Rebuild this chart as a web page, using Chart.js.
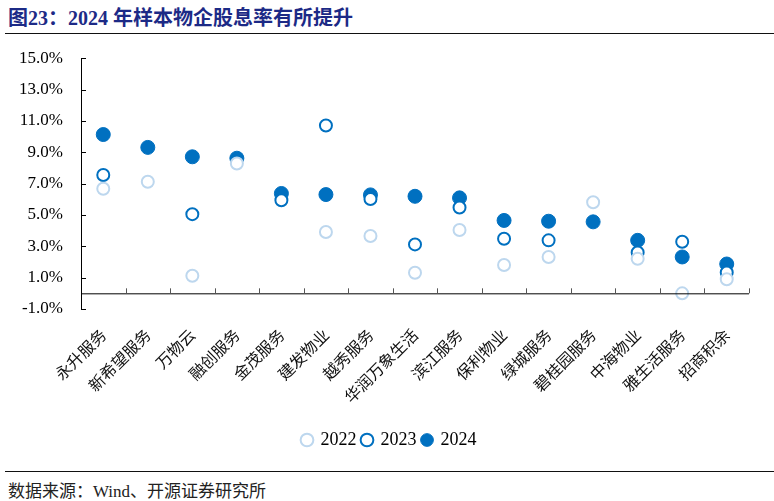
<!DOCTYPE html>
<html>
<head>
<meta charset="utf-8">
<script src="https://cdn.jsdelivr.net/npm/chart.js@4.4.1/dist/chart.umd.min.js"></script>
<style>
  body { margin: 0; width: 774px; height: 501px; background: #fff; position: relative; overflow: hidden; }
  #title { position: absolute; left: 8px; top: 2px; font: bold 20px "Liberation Serif", "Noto Sans CJK SC"; color: #1c2a86; }
  .rule { position: absolute; left: 5px; right: 0; height: 0; border-top: 1.5px solid #111; }
  #footer { position: absolute; left: 8px; top: 477px; font: 17px "Liberation Serif", "Noto Sans CJK SC"; color: #222; }
  #box { position: absolute; left: 0; top: 30px; width: 774px; height: 437px; }
</style>
</head>
<body>
<div id="title">图23：2024 年样本物企股息率有所提升</div>
<div class="rule" style="top:33px"></div>
<div id="box"><canvas id="chart"></canvas></div>
<div class="rule" style="top:471px"></div>
<div id="footer">数据来源：Wind、开源证券研究所</div>
<script>
const companies = ["永升服务", "新希望服务", "万物云", "融创服务", "金茂服务", "建发物业", "越秀服务", "华润万象生活",
    "滨江服务", "保利物业", "绿城服务", "碧桂园服务", "中海物业", "雅生活服务", "招商积余"]
const yield2022 = [6.67, 7.12, 1.12, 8.28, null, 3.91, 3.66, 1.31, 4.04, 1.81, 2.32, 5.81, 2.21, 0.0, 0.90]
const yield2023 = [7.55, null, 5.05, null, 5.94, 10.71, 6.02, 3.12, 5.48, 3.48, 3.38, null, 2.60, 3.29, 1.33]
const yield2024 = [10.13, 9.31, 8.71, 8.62, 6.37, 6.30, 6.28, 6.19, 6.09, 4.65, 4.60, 4.56, 3.38, 2.32, 1.87]

const light = "#bdd7ee"
const blue = "#0070c0"
const serif = "'Liberation Serif', 'Noto Sans CJK SC'"

// axis line at 0 plus inward tick marks, like the original excel chart
const axisPlugin = {
    id: "axisPlugin",
    afterDraw: (chart) => {
        const ctx = chart.ctx
        const xs = chart.scales.x
        const ys = chart.scales.y
        const area = chart.chartArea
        const zero = ys.getPixelForValue(0)
        const step = xs.getPixelForValue(1) - xs.getPixelForValue(0)
        ctx.save()
        ctx.lineWidth = 1
        ctx.strokeStyle = "#000"
        ctx.beginPath()
        ctx.moveTo(area.left, zero + 0.5)
        ctx.lineTo(area.right, zero + 0.5)
        ctx.stroke()
        ctx.strokeStyle = "#555"
        ctx.beginPath()
        for (let i = 0; i < companies.length; ++i) {
            const x = Math.round(xs.getPixelForValue(i) + step / 2) + 0.5
            ctx.moveTo(x, zero)
            ctx.lineTo(x, zero - 5)
        }
        ctx.stroke()
        ctx.strokeStyle = "#000"
        ctx.beginPath()
        ys.ticks.forEach(t => {
            const y = Math.round(ys.getPixelForValue(t.value)) + 0.5
            ctx.moveTo(area.left, y)
            ctx.lineTo(area.left + 5, y)
        })
        ctx.stroke()
        ctx.restore()
    }
}

const makeSet = (label, data, fill, stroke, radius, width) => ({
    label: label,
    data: data,
    showLine: false,
    pointRadius: radius,
    pointHoverRadius: radius,
    pointBackgroundColor: fill,
    pointBorderColor: stroke,
    pointBorderWidth: width,
    backgroundColor: fill,
    borderColor: stroke,
    borderWidth: width
})

new Chart(document.getElementById("chart"), {
    type: "line",
    data: {
        labels: companies,
        datasets: [
            makeSet("2022", yield2022, "#fff", light, 6, 2),
            makeSet("2023", yield2023, "#fff", blue, 6, 2),
            makeSet("2024", yield2024, blue, blue, 7, 1)
        ]
    },
    options: {
        responsive: true,
        maintainAspectRatio: false,
        animation: false,
        layout: { padding: { top: 7, right: 9, bottom: 8, left: 14 } },
        plugins: {
            tooltip: { enabled: false },
            legend: {
                position: "bottom",
                labels: {
                    usePointStyle: true,
                    pointStyle: "circle",
                    boxWidth: 9,
                    boxHeight: 9,
                    padding: 6,
                    color: "#000",
                    font: { family: serif, size: 18 }
                }
            }
        },
        scales: {
            x: {
                offset: true,
                grid: { display: false, drawTicks: false, offset: true },
                border: { display: false },
                ticks: {
                    color: "#111",
                    font: { family: "'Noto Sans CJK SC'", size: 16 },
                    minRotation: 45,
                    maxRotation: 45,
                    padding: 16,
                    autoSkip: false
                },
                afterFit: (scale) => { scale.height = 116 }
            },
            y: {
                min: -1,
                max: 15,
                grid: { display: false, drawTicks: false },
                border: { display: true, color: "#000", width: 1 },
                ticks: {
                    stepSize: 2,
                    color: "#000",
                    padding: 18,
                    font: { family: serif, size: 17 },
                    callback: (v) => v.toFixed(1) + "%"
                },
                afterFit: (scale) => { scale.width = 67 }
            },
            // empty right axis, only keeps the plot away from the right edge
            yRight: {
                position: "right",
                min: -1,
                max: 15,
                grid: { display: false, drawTicks: false },
                border: { display: false },
                ticks: { display: false },
                afterFit: (scale) => { scale.width = 16 }
            }
        }
    },
    plugins: [axisPlugin]
})
</script>
</body>
</html>
